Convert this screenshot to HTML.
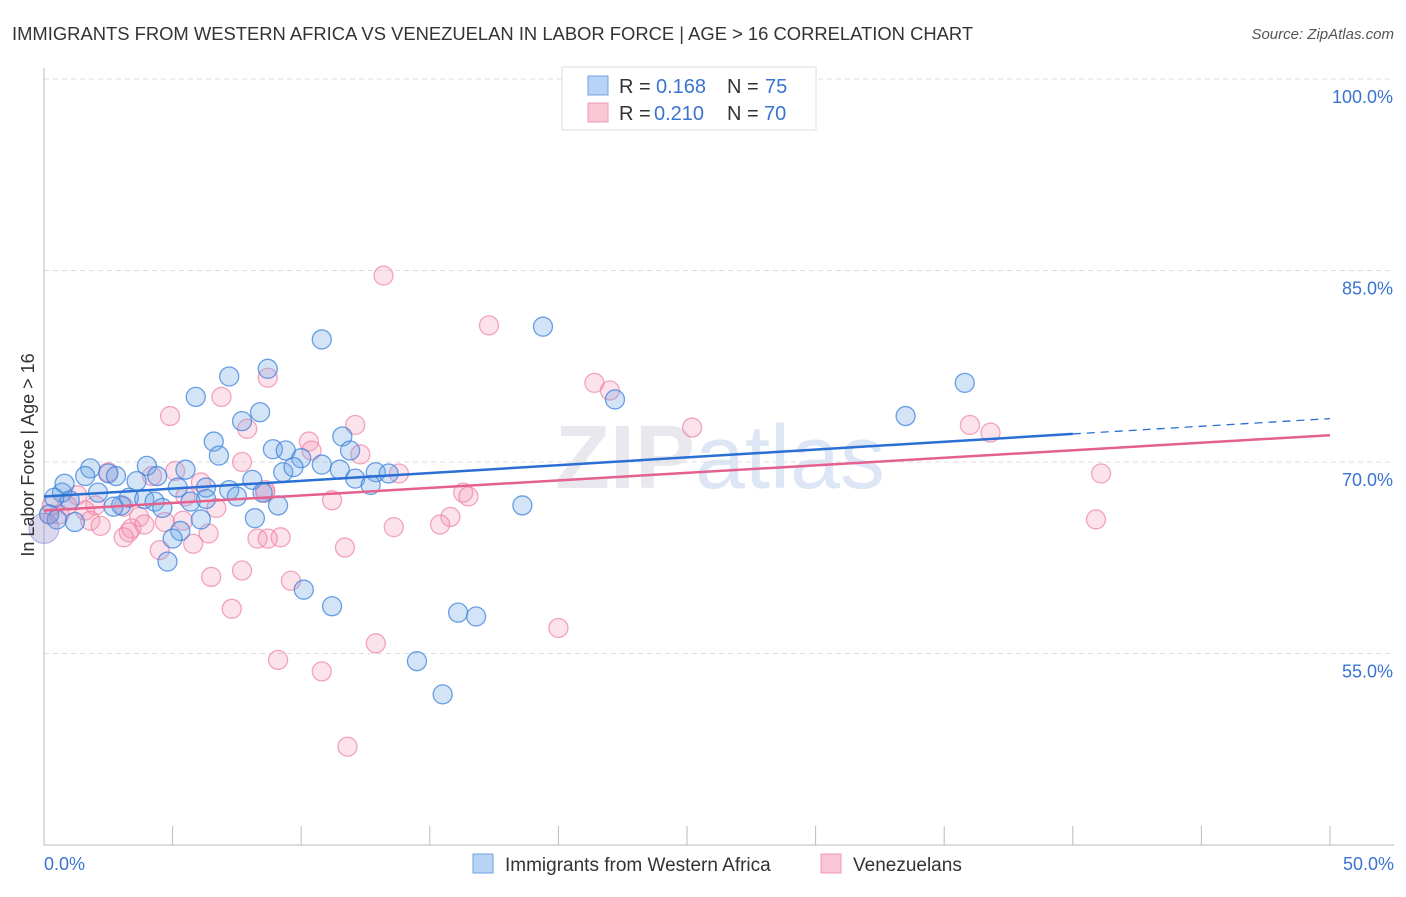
<!DOCTYPE html>
<html><head><meta charset="utf-8"><style>
body{margin:0;background:#fff;font-family:"Liberation Sans",sans-serif;}
svg text{font-family:"Liberation Sans",sans-serif;}
</style></head><body>
<svg id="chart" width="1406" height="892">
<text x="12" y="40" font-size="18.4" fill="#333">IMMIGRANTS FROM WESTERN AFRICA VS VENEZUELAN IN LABOR FORCE | AGE &gt; 16 CORRELATION CHART</text>
<text x="1394" y="39" font-size="15" fill="#555" font-style="italic" text-anchor="end">Source: ZipAtlas.com</text>
<text x="720" y="488" font-size="90" fill="#e8e8ee" text-anchor="middle" font-weight="bold">ZIP<tspan font-weight="normal" fill="#dce6f4">atlas</tspan></text>
<g id="grid"></g>
<g id="axes"></g>
<g id="pts"></g>
<g id="lines"></g>
<text transform="translate(34,455) rotate(-90)" font-size="18" fill="#333" text-anchor="middle">In Labor Force | Age &gt; 16</text>
<g>
<rect x="562" y="67" width="254" height="63" fill="#fff" stroke="#ddd"/>
<rect x="588" y="76" width="20" height="19" fill="#b8d3f5" stroke="#6fa3e3"/>
<rect x="588" y="103" width="20" height="19" fill="#f9c6d5" stroke="#ef9bb5"/>
<text x="619" y="93" font-size="20" fill="#333">R =</text>
<text x="656" y="93" font-size="20" fill="#3a74d0">0.168</text>
<text x="727" y="93" font-size="20" fill="#333">N =</text>
<text x="765" y="93" font-size="20" fill="#3a74d0">75</text>
<text x="619" y="120" font-size="20" fill="#333">R =</text>
<text x="654" y="120" font-size="20" fill="#3a74d0">0.210</text>
<text x="727" y="120" font-size="20" fill="#333">N =</text>
<text x="764" y="120" font-size="20" fill="#3a74d0">70</text>
</g>
<g>
<rect x="473" y="854" width="20" height="19" fill="#b8d3f5" stroke="#6fa3e3"/>
<text x="505" y="871" font-size="19" fill="#333">Immigrants from Western Africa</text>
<rect x="821" y="854" width="20" height="19" fill="#f9c6d5" stroke="#ef9bb5"/>
<text x="853" y="871" font-size="19" fill="#333">Venezuelans</text>
</g>
</svg>
<script>
const yTicks=[100,85,70,55];
const xTickLabels=["0.0%","50.0%"];
const blueX=[10.8,19.4,8.7,7.2,5.9,8.4,7.7,22.2,33.5,35.8,6.6,6.8,8.9,9.4,11.6,11.9,10.0,10.8,9.3,9.7,11.5,12.9,13.4,12.1,12.7,5.5,4.0,4.4,1.8,1.6,2.5,2.8,3.6,5.2,6.3,7.2,8.1,8.5,0.7,1.0,2.1,3.3,3.9,4.3,5.7,6.3,7.5,9.1,3.0,4.6,0.4,0.2,1.2,8.2,6.1,18.6,5.3,5.0,4.8,10.1,11.2,16.1,16.8,14.5,15.5,0.5,2.7,0.8];
const blueY=[79.6,80.6,77.3,76.7,75.1,73.9,73.2,74.9,73.6,76.2,71.6,70.5,71.0,70.9,72.0,70.9,70.3,69.8,69.2,69.6,69.4,69.2,69.1,68.7,68.2,69.4,69.7,68.9,69.5,68.9,69.1,68.9,68.5,68.0,68.0,67.8,68.6,67.6,67.6,67.0,67.6,67.2,67.1,66.9,66.9,67.1,67.3,66.6,66.6,66.4,67.2,65.9,65.3,65.6,65.5,66.6,64.6,64.0,62.2,60.0,58.7,58.2,57.9,54.4,51.8,65.5,66.5,68.3];
const pinkX=[13.2,17.3,8.7,21.4,22.0,6.9,4.9,7.9,12.1,25.2,36.0,36.8,10.3,10.4,12.3,7.7,41.1,13.8,5.1,4.2,2.5,6.1,8.6,11.2,16.3,16.5,1.3,2.0,3.1,6.7,0.6,1.6,3.7,4.7,5.4,1.8,2.2,40.9,15.8,15.4,13.6,3.3,3.4,3.9,3.1,6.4,5.8,8.3,9.2,8.7,11.7,4.5,7.7,6.5,9.6,7.3,20.0,12.9,9.1,10.8,11.8,0.2,0.3,0.9,5.5,8.6];
const pinkY=[84.6,80.7,76.6,76.2,75.6,75.1,73.6,72.6,72.9,72.7,72.9,72.3,71.6,70.9,70.6,70.0,69.1,69.1,69.3,68.9,69.2,68.4,67.6,67.0,67.6,67.3,67.4,66.6,66.5,66.4,65.9,66.2,65.7,65.3,65.4,65.4,65.0,65.5,65.7,65.1,64.9,64.5,64.8,65.1,64.1,64.4,63.6,64.0,64.1,64.0,63.3,63.1,61.5,61.0,60.7,58.5,57.0,55.8,54.5,53.6,47.7,65.9,66.6,66.6,67.3,67.8];
const blueTrend=[67.3,72.2,73.4];
const pinkTrend=[66.2,72.1];
const NS="http://www.w3.org/2000/svg";
const sx=v=>44+v*25.72, sy=v=>79+(100-v)*12.767;
function mk(t,a,p){const e=document.createElementNS(NS,t);for(const k in a)e.setAttribute(k,a[k]);p.appendChild(e);return e;}
const grid=document.getElementById('grid'),axes=document.getElementById('axes'),pts=document.getElementById('pts'),lines=document.getElementById('lines');
yTicks.forEach(t=>{
 const l=mk('line',{x1:44,x2:1394,y1:sy(t),y2:sy(t),stroke:'#ddd','stroke-dasharray':'5,4'},grid);
 
 
 const tx=mk('text',{x:1393,y:sy(t)+24,'font-size':18,fill:'#3a74d0','text-anchor':'end'},axes);
 tx.textContent=t.toFixed(1)+'%';
 
 
});
const ax=mk('line',{x1:44,x2:44,y1:68,y2:845,stroke:'#bbb'},axes);


const bx=mk('line',{x1:44,x2:1394,y1:845,y2:845,stroke:'#bbb'},axes);


for(let i=0;i<=10;i++){const t=mk('line',{x1:sx(i*5),x2:sx(i*5),y1:826,y2:845,stroke:'#bbb'},axes);
 
 }
[[0,'start',44],[50,'end',1394]].forEach((d,i)=>{const t=mk('text',{x:d[2],y:870,'font-size':18,fill:'#3a74d0','text-anchor':d[1]},axes);t.textContent=xTickLabels[i];
 
 });
function dots(X,Y,fill,stroke,name){X.forEach((x,i)=>{const c=mk('circle',{cx:sx(x),cy:sy(Y[i]),r:9.5,fill:fill,stroke:stroke,'stroke-width':1.3},pts);
 
 });}
dots(pinkX,pinkY,'rgba(244,150,180,0.28)','rgba(236,130,165,0.7)','point-venezuelans');
dots(blueX,blueY,'rgba(110,165,230,0.3)','rgba(60,130,220,0.75)','point-western-africa');
const big=mk('circle',{cx:sx(0),cy:sy(64.8),r:15,fill:'rgba(150,140,210,0.35)',stroke:'rgba(120,130,210,0.6)'},pts);


const bl=mk('line',{x1:sx(0),y1:sy(blueTrend[0]),x2:sx(40),y2:sy(blueTrend[1]),stroke:'#2a6fd4','stroke-width':2.5},lines);


const bd=mk('line',{x1:sx(40),y1:sy(blueTrend[1]),x2:sx(50),y2:sy(blueTrend[2]),stroke:'#2a6fd4','stroke-width':1.3,'stroke-dasharray':'8,6'},lines);


const pl=mk('line',{x1:sx(0),y1:sy(pinkTrend[0]),x2:sx(50),y2:sy(pinkTrend[1]),stroke:'#e4608e','stroke-width':2.5},lines);


</script>
</body></html>
